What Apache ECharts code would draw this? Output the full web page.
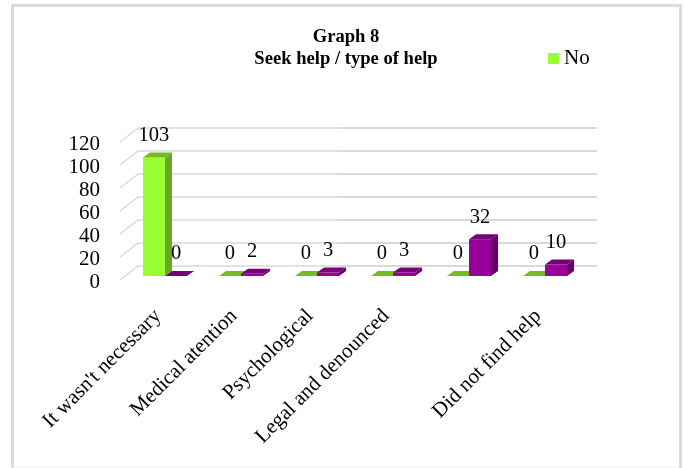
<!DOCTYPE html>
<html>
<head>
<meta charset="utf-8">
<style>html,body{margin:0;padding:0;background:#fff}#c{width:685px;height:468px}</style>
<script src="https://cdn.jsdelivr.net/npm/echarts@6/dist/echarts.min.js"></script>
</head>
<body>
<div id="c"></div>
<script>
const categories = ["It wasn't necessary", "Medical atention", "Psychological", "Legal and denounced", "", "Did not find help"];
const noValues = [103, 0, 0, 0, 0, 0];
const otherValues = [0, 2, 3, 3, 32, 10];
const yTicks = [0, 20, 40, 60, 80, 100, 120];
const titleText = "Graph 8\nSeek help / type of help";

const FONT = '"Liberation Serif", "Times New Roman", serif';
const chart = echarts.init(document.getElementById('c'), null, {renderer: 'canvas'});

function wallRender(params, api) {
  const cs = params.coordSys;
  const p = api.coord([0, api.value(0)]);
  const x0 = cs.x, y = p[1];
  const st = w => ({stroke: '#d9d9d9', lineWidth: w, fill: null});
  return {type: 'group', children: [
    {type: 'line', shape: {x1: x0, y1: y, x2: x0 + 18, y2: y - 14}, style: st(1.4)},
    {type: 'line', shape: {x1: x0 + 18, y1: y - 14, x2: x0 + 218, y2: y - 14}, style: st(1.4)},
    {type: 'line', shape: {x1: x0 + 218, y1: y - 14, x2: x0 + 477, y2: y - 14}, style: st(2.2)}
  ]};
}

function barRender(colors, shift) {
  return function (params, api) {
    const i = api.value(0), v = api.value(1);
    const band = api.size([1, 0])[0];
    const w = band * 0.29, dx = 7, dy = 5;
    const base = api.coord([i, 0]);
    const top = api.coord([i, v]);
    const x = base[0] - w + shift * w + 7;
    const yb = base[1] - 4, yt = top[1] - 4;
    const kids = [];
    if (yb - yt > 0.5) {
      kids.push({type: 'polygon', shape: {points: [[x + w, yb], [x + w + dx, yb - dy], [x + w + dx, yt - dy], [x + w, yt]]}, style: {fill: colors.side}});
      kids.push({type: 'rect', shape: {x: x, y: yt, width: w, height: yb - yt}, style: {fill: colors.front}});
    }
    kids.push({type: 'polygon', shape: {points: [[x, yt], [x + dx, yt - dy], [x + w + dx, yt - dy], [x + w, yt]]}, style: {fill: colors.top}});
    kids.push({type: 'text', style: {text: String(v), x: x + w / 2, y: yt - 22, align: 'center', verticalAlign: 'middle', font: '20.5px ' + FONT, fill: '#000'}});
    return {type: 'group', children: kids};
  };
}

chart.setOption({
  animation: false,
  backgroundColor: '#fff',
  title: {
    text: titleText,
    left: 341, top: 21, textAlign: 'center',
    textStyle: {fontFamily: FONT, fontWeight: 'bold', fontSize: 18.6, lineHeight: 22, color: '#000'}
  },
  legend: {
    data: ['No'], left: 543, top: 43, itemWidth: 11, itemHeight: 11, itemGap: 2,
    icon: 'rect', textStyle: {fontFamily: FONT, fontSize: 21, color: '#000'}
  },
  grid: {left: 120, top: 142, width: 456, height: 138},
  xAxis: {
    type: 'category', data: categories,
    axisLine: {show: false}, axisTick: {show: false},
    axisLabel: {interval: 0, rotate: 45, fontFamily: FONT, fontSize: 21, color: '#000', margin: 33, padding: [10, 0, 0, 0]}
  },
  yAxis: {
    type: 'value', min: 0, max: 120, interval: 20,
    axisLine: {show: false}, axisTick: {show: false}, splitLine: {show: false},
    axisLabel: {fontFamily: FONT, fontSize: 21, color: '#000', margin: 20, verticalAlign: 'top', lineHeight: 22, padding: [-9, 0, 0, 0]}
  },
  graphic: [
    {type: 'rect', silent: true, shape: {x: 11, y: 4, width: 3, height: 464}, style: {fill: '#dcdcdc'}},
    {type: 'rect', silent: true, shape: {x: 11, y: 4, width: 671, height: 3}, style: {fill: '#dcdcdc'}},
    {type: 'rect', silent: true, shape: {x: 679, y: 4, width: 3, height: 464}, style: {fill: '#dcdcdc'}},
    {type: 'rect', silent: true, shape: {x: 14, y: 467, width: 665, height: 1}, style: {fill: '#f2f2f2'}}
  ],
  series: [
    {type: 'custom', name: 'wall', z: 1, data: yTicks.map(v => [v]), encode: {y: 0}, renderItem: wallRender, silent: true},
    {type: 'custom', name: 'No', z: 2, itemStyle: {color: '#99ff33'}, data: noValues.map((v, i) => [i, v]), encode: {x: 0, y: 1},
     renderItem: barRender({front: '#99ff33', side: '#66aa22', top: '#77bb22'}, 0)},
    {type: 'custom', name: 'Other', z: 3, itemStyle: {color: '#990099'}, data: otherValues.map((v, i) => [i, v]), encode: {x: 0, y: 1},
     renderItem: barRender({front: '#990099', side: '#660066', top: '#770077'}, 1)}
  ]
});
</script>
</body>
</html>
